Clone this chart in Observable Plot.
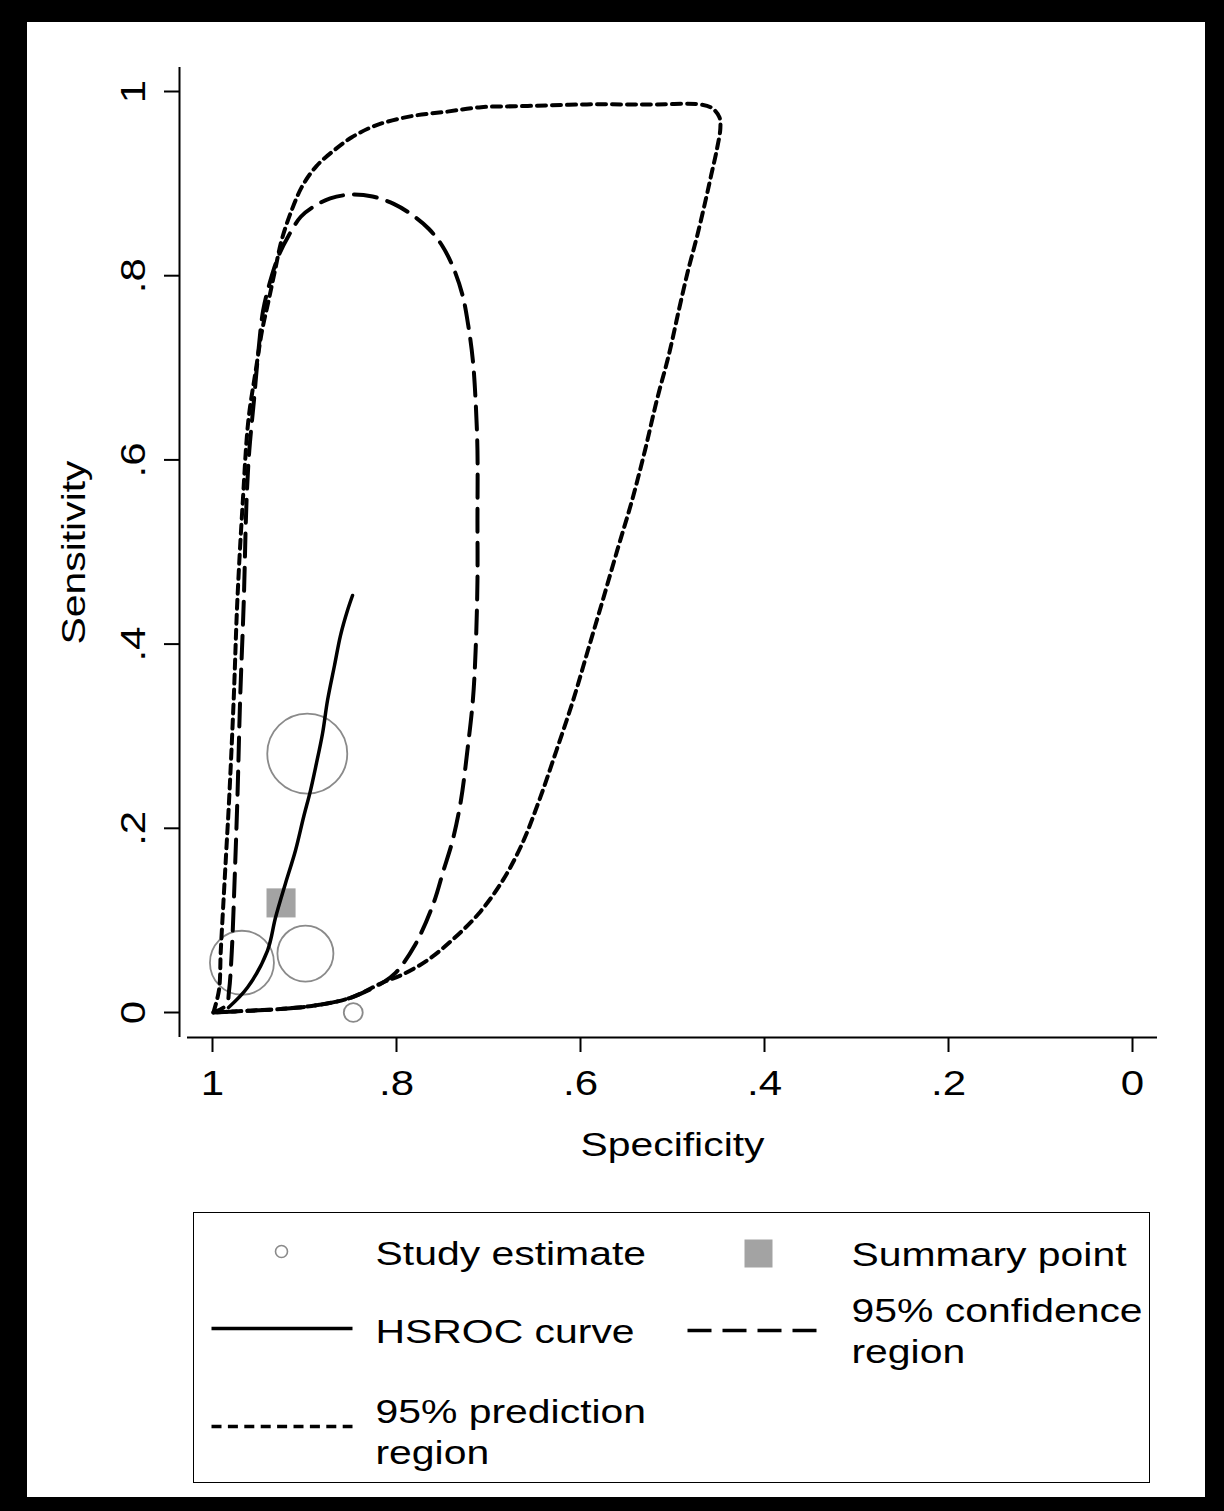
<!DOCTYPE html>
<html><head><meta charset="utf-8">
<script src="https://cdn.jsdelivr.net/npm/d3@7"></script>
<script src="https://cdn.jsdelivr.net/npm/@observablehq/plot@0.6"></script>
<style>
html,body{margin:0;padding:0;background:#000;}
#page{position:relative;width:1224px;height:1511px;background:#000;overflow:hidden;font-family:"Liberation Sans",Arial,sans-serif;}
#inner{position:absolute;left:27px;top:22px;width:1178px;height:1475px;background:#fff;}
#chart{position:absolute;left:0;top:0;}
#legend{position:absolute;left:193px;top:1212px;width:957px;height:271px;box-sizing:border-box;border:1.5px solid #000;background:#fff;}
#legend svg{position:absolute;left:0;top:0;overflow:visible;}
</style></head><body>
<div id="page"><div id="inner"></div><div id="chart"></div><div id="legend"></div></div>
<script>
// ---- data (specificity, sensitivity) ----
const studySpec = [0.897, 0.968, 0.899, 0.847];
const studySens = [0.281, 0.054, 0.064, 0.000];
const studyWeight = [100, 64, 49, 5.6];

const summarySpec = [0.9255];
const summarySens = [0.119];

const hsrocSpec = [0.9826, 0.9620, 0.9402, 0.9315, 0.9207, 0.9098, 0.9011, 0.8935, 0.8880, 0.8804, 0.8750, 0.8674, 0.8609, 0.8533, 0.8478];
const hsrocSens = [0.0054, 0.0271, 0.0673, 0.1031, 0.1401, 0.1759, 0.2117, 0.2410, 0.2660, 0.3029, 0.3388, 0.3768, 0.4093, 0.4365, 0.4528];

const confSpec = [0.999, 0.959, 0.923, 0.886, 0.850, 0.814, 0.801, 0.780, 0.760, 0.749, 0.739, 0.730, 0.723, 0.717, 0.714, 0.712, 0.712, 0.712, 0.714, 0.717, 0.722, 0.728, 0.738, 0.750, 0.765, 0.783, 0.803, 0.826, 0.850, 0.872, 0.890, 0.904, 0.917, 0.928, 0.937, 0.945, 0.950, 0.955, 0.960, 0.963, 0.966, 0.970, 0.973, 0.976, 0.979, 0.982, 0.985, 0.999];
const confSens = [0.000, 0.002, 0.004, 0.008, 0.016, 0.033, 0.043, 0.073, 0.118, 0.154, 0.187, 0.230, 0.284, 0.339, 0.393, 0.469, 0.534, 0.610, 0.664, 0.708, 0.746, 0.778, 0.808, 0.832, 0.851, 0.866, 0.878, 0.886, 0.888, 0.884, 0.875, 0.864, 0.844, 0.822, 0.795, 0.762, 0.719, 0.664, 0.610, 0.556, 0.447, 0.339, 0.230, 0.143, 0.067, 0.024, 0.008, 0.000];

const predSpec = [0.999, 0.993, 0.991, 0.988, 0.985, 0.982, 0.977, 0.973, 0.967, 0.961, 0.953, 0.946, 0.939, 0.932, 0.925, 0.914, 0.902, 0.887, 0.868, 0.849, 0.823, 0.785, 0.746, 0.708, 0.670, 0.632, 0.593, 0.555, 0.517, 0.470, 0.457, 0.449, 0.448, 0.452, 0.458, 0.464, 0.473, 0.483, 0.493, 0.504, 0.517, 0.530, 0.544, 0.560, 0.576, 0.592, 0.608, 0.626, 0.645, 0.664, 0.686, 0.711, 0.738, 0.766, 0.794, 0.814, 0.850, 0.886, 0.923, 0.959, 0.999];
const predSens = [0.000, 0.024, 0.067, 0.122, 0.176, 0.230, 0.339, 0.447, 0.556, 0.643, 0.697, 0.741, 0.773, 0.806, 0.838, 0.871, 0.898, 0.919, 0.936, 0.950, 0.963, 0.973, 0.978, 0.983, 0.984, 0.985, 0.986, 0.986, 0.986, 0.986, 0.982, 0.972, 0.960, 0.936, 0.909, 0.882, 0.844, 0.806, 0.763, 0.714, 0.665, 0.610, 0.556, 0.502, 0.447, 0.393, 0.339, 0.285, 0.230, 0.182, 0.141, 0.107, 0.080, 0.057, 0.041, 0.033, 0.016, 0.008, 0.004, 0.002, 0.000];

const xTicks = [1, 0.8, 0.6, 0.4, 0.2, 0];
const xTickLabels = ["1", ".8", ".6", ".4", ".2", "0"];
const yTicks = [0, 0.2, 0.4, 0.6, 0.8, 1];
const yTickLabels = ["0", ".2", ".4", ".6", ".8", "1"];

const xTitle = "Specificity";
const yTitle = "Sensitivity";
const legendLabels = ["Study estimate", "Summary point", "HSROC curve", "95% confidence\nregion", "95% prediction\nregion"];

// ---- build tables ----
const studies = studySpec.map((s, i) => ({spec: s, sens: studySens[i], w: studyWeight[i]}));
const summary = summarySpec.map((s, i) => ({spec: s, sens: summarySens[i]}));
const hsroc = hsrocSpec.map((s, i) => ({spec: s, sens: hsrocSens[i]}));
const conf = confSpec.map((s, i) => ({spec: s, sens: confSens[i]}));
const pred = predSpec.map((s, i) => ({spec: s, sens: predSens[i]}));

const FONT = '"Liberation Sans", Arial, sans-serif';
const xDom = [1.03587, -0.02717];
const yDom = [-0.02714, 1.02606];
const xAxisStart = 1.02717;

const chart = Plot.plot({
  width: 1224, height: 1190,
  marginLeft: 179, marginRight: 67, marginTop: 67, marginBottom: 153,
  style: {background: "transparent", fontFamily: FONT, color: "#000", overflow: "visible"},
  x: {domain: xDom, axis: null, label: null},
  y: {domain: yDom, axis: null, label: null},
  r: {type: "sqrt", domain: [0, 100], range: [0, 40]},
  marks: [
    Plot.ruleY([yDom[0]], {x1: xAxisStart, x2: xDom[1], stroke: "#000", strokeWidth: 2}),
    Plot.ruleX([xDom[0]], {y1: yDom[0], y2: yDom[1], stroke: "#000", strokeWidth: 2}),
    Plot.axisX({anchor: "bottom", label: null, ticks: xTicks, tickFormat: d => xTickLabels[xTicks.indexOf(d)], tickSize: 15, tickPadding: 18, fontSize: 35, strokeWidth: 2}),
    Plot.axisY({anchor: "left", label: null, ticks: yTicks, tickFormat: d => yTickLabels[yTicks.indexOf(d)], tickSize: 15, tickPadding: 20, tickRotate: -90, fontSize: 35, strokeWidth: 2}),
    Plot.text([xTitle], {text: d => d, frameAnchor: "bottom", dx: 4, dy: 118, textAnchor: "middle", lineAnchor: "bottom", fontSize: 33}),
    Plot.text([yTitle], {text: d => d, frameAnchor: "left", dx: -95, rotate: -90, textAnchor: "middle", lineAnchor: "bottom", fontSize: 33}),
    Plot.dot(studies, {x: "spec", y: "sens", r: "w", stroke: "#8a8a8a", strokeWidth: 1.8, fill: "none"}),
    Plot.dot(summary, {x: "spec", y: "sens", symbol: "square", r: 16.4, fill: "#a3a3a3", stroke: "none"}),
    Plot.line(pred, {x: "spec", y: "sens", stroke: "#000", strokeWidth: 4, strokeDasharray: "9,6", curve: "catmull-rom"}),
    Plot.line(conf, {x: "spec", y: "sens", stroke: "#000", strokeWidth: 4, strokeDasharray: "23,11", curve: "catmull-rom"}),
    Plot.line(hsroc, {x: "spec", y: "sens", stroke: "#000", strokeWidth: 3.5, curve: "catmull-rom"})
  ]
});

function stretch(root, k) {
  root.querySelectorAll("text").forEach(t => {
    const tr = t.getAttribute("transform");
    if (tr) t.setAttribute("transform", tr + ` scale(${k},1)`);
    else {
      const x = +t.getAttribute("x") || 0, y = +t.getAttribute("y") || 0;
      t.setAttribute("transform", `translate(${x},${y}) scale(${k},1) translate(${-x},${-y})`);
    }
  });
}
chart.querySelectorAll('g[aria-label="x-axis tick label"], g[aria-label="y-axis tick label"]').forEach(g => stretch(g, 1.2));
chart.querySelectorAll('g[aria-label="text"]').forEach(g => stretch(g, 1.24));
document.getElementById("chart").appendChild(chart);

// ---- legend ----
const lsvg = d3.create("svg").attr("width", 954).attr("height", 268)
  .style("font-family", FONT).style("font-size", "33px");
const ox = 194.5, oy = 1213.5;
function addText(x, y, str) {
  str.split("\n").forEach((ln, i) => {
    lsvg.append("text").attr("transform", `translate(${x - ox},${y - oy + i * 41}) scale(1.24,1)`).attr("fill", "#000").text(ln);
  });
}
lsvg.append("circle").attr("cx", 282 - ox).attr("cy", 1252 - oy).attr("r", 6).attr("fill", "none").attr("stroke", "#8a8a8a").attr("stroke-width", 1.6);
addText(376, 1265, legendLabels[0]);
lsvg.append("rect").attr("x", 745 - ox).attr("y", 1240 - oy).attr("width", 28).attr("height", 28).attr("fill", "#a3a3a3");
addText(852, 1266, legendLabels[1]);
lsvg.append("line").attr("x1", 212 - ox).attr("x2", 353 - ox).attr("y1", 1329 - oy).attr("y2", 1329 - oy).attr("stroke", "#000").attr("stroke-width", 3.5);
addText(376, 1343, legendLabels[2]);
lsvg.append("line").attr("x1", 688 - ox).attr("x2", 817 - ox).attr("y1", 1331 - oy).attr("y2", 1331 - oy).attr("stroke", "#000").attr("stroke-width", 3.5).attr("stroke-dasharray", "24,11");
addText(852, 1322, legendLabels[3]);
lsvg.append("line").attr("x1", 212 - ox).attr("x2", 353 - ox).attr("y1", 1427 - oy).attr("y2", 1427 - oy).attr("stroke", "#000").attr("stroke-width", 3.5).attr("stroke-dasharray", "10,6.4");
addText(376, 1423, legendLabels[4]);
document.getElementById("legend").appendChild(lsvg.node());
</script>
</body></html>
